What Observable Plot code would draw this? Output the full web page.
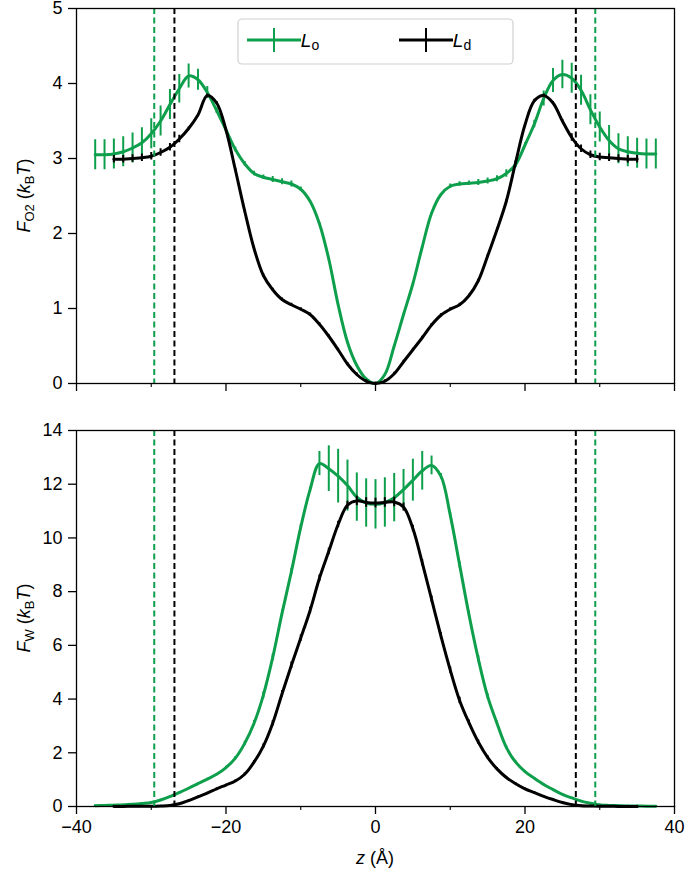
<!DOCTYPE html>
<html><head><meta charset="utf-8">
<script src="https://cdn.jsdelivr.net/npm/d3@7"></script>
<script src="https://cdn.jsdelivr.net/npm/@observablehq/plot@0.6"></script>
<style>
body{margin:0;background:#fff;}
#chart{width:685px;}
#chart svg{display:block;}
</style></head><body><div id="chart"></div>
<script>
// z positions (Å)
const zLo = [-37.5,-36.25,-35,-33.75,-32.5,-31.25,-30,-28.75,-27.5,-26.25,-25,-23.75,-22.5,-21.25,-20,-18.75,-17.5,-16.25,-15,-13.75,-12.5,-11.25,-10,-8.75,-7.5,-6.25,-5,-3.75,-2.5,-1.25,0,1.25,2.5,3.75,5,6.25,7.5,8.75,10,11.25,12.5,13.75,15,16.25,17.5,18.75,20,21.25,22.5,23.75,25,26.25,27.5,28.75,30,31.25,32.5,33.75,35,36.25,37.5];
const zLd = [-35,-33.75,-32.5,-31.25,-30,-28.75,-27.5,-26.25,-25,-23.75,-22.5,-21.25,-20,-18.75,-17.5,-16.25,-15,-13.75,-12.5,-11.25,-10,-8.75,-7.5,-6.25,-5,-3.75,-2.5,-1.25,0,1.25,2.5,3.75,5,6.25,7.5,8.75,10,11.25,12.5,13.75,15,16.25,17.5,18.75,20,21.25,22.5,23.75,25,26.25,27.5,28.75,30,31.25,32.5,33.75,35];

// F_O2 (kBT)
const fO2Lo = [3.05,3.05,3.06,3.09,3.14,3.21,3.33,3.50,3.72,3.93,4.10,4.05,3.88,3.64,3.38,3.12,2.93,2.80,2.75,2.72,2.69,2.66,2.59,2.43,2.13,1.66,1.05,0.55,0.24,0.06,0.00,0.12,0.50,0.92,1.33,1.82,2.27,2.52,2.63,2.66,2.67,2.68,2.70,2.73,2.80,2.92,3.18,3.46,3.80,4.04,4.12,4.07,3.91,3.65,3.42,3.24,3.13,3.09,3.07,3.06,3.06];
const fO2LoErr = [0.2,0.2,0.2,0.2,0.2,0.2,0.2,0.2,0.2,0.19,0.16,0.14,0.08,0.04,0.03,0.03,0.03,0.03,0.03,0.04,0.04,0.04,0.03,0.01,0.01,0.01,0.01,0.01,0.01,0.01,0.01,0.01,0.01,0.01,0.01,0.01,0.01,0.01,0.03,0.03,0.03,0.04,0.04,0.04,0.05,0.04,0.03,0.05,0.10,0.16,0.19,0.2,0.2,0.2,0.2,0.2,0.2,0.2,0.2,0.2,0.2];
const fO2Ld = [2.99,2.99,3.00,3.01,3.03,3.08,3.15,3.26,3.40,3.58,3.84,3.74,3.38,2.85,2.30,1.80,1.44,1.25,1.12,1.05,0.99,0.92,0.79,0.63,0.45,0.26,0.12,0.03,0.00,0.03,0.13,0.29,0.45,0.61,0.78,0.91,0.99,1.05,1.17,1.37,1.70,2.05,2.43,2.95,3.45,3.77,3.84,3.74,3.50,3.28,3.13,3.05,3.02,3.01,3.00,2.99,2.99];
const fO2LdErr = [0.05,0.05,0.05,0.05,0.05,0.05,0.05,0.05,0.02,0.02,0.02,0.02,0.02,0.02,0.02,0.02,0.02,0.02,0.02,0.02,0.02,0.02,0.02,0.02,0.02,0.02,0.02,0.02,0.02,0.02,0.02,0.02,0.02,0.02,0.02,0.02,0.02,0.02,0.02,0.02,0.02,0.02,0.02,0.02,0.02,0.02,0.02,0.02,0.02,0.05,0.05,0.05,0.05,0.05,0.05,0.05,0.05];

// F_W (kBT)
const fWLo = [0.03,0.04,0.05,0.06,0.08,0.11,0.15,0.24,0.37,0.52,0.68,0.85,1.02,1.20,1.45,1.80,2.35,3.10,4.15,5.55,7.20,8.75,10.40,11.80,12.77,12.58,12.30,11.95,11.52,11.30,11.25,11.32,11.50,11.80,12.15,12.50,12.70,12.30,10.85,9.00,7.15,5.50,4.10,3.10,2.20,1.65,1.30,1.05,0.82,0.63,0.45,0.32,0.20,0.12,0.06,0.04,0.03,0.02,0.02,0.01,0.01];
const fWLoErr = [0.03,0.03,0.03,0.03,0.03,0.03,0.03,0.03,0.03,0.03,0.03,0.03,0.03,0.03,0.05,0.06,0.08,0.1,0.12,0.12,0.12,0.12,0.1,0.1,0.45,0.85,1.0,0.95,0.9,0.9,0.92,0.92,0.9,0.75,0.78,0.72,0.35,0.1,0.1,0.12,0.12,0.12,0.1,0.08,0.06,0.05,0.04,0.03,0.03,0.03,0.03,0.03,0.03,0.03,0.03,0.03,0.03,0.03,0.03,0.03,0.03];
const fWLd = [0.00,0.00,0.01,0.01,0.01,0.02,0.04,0.10,0.22,0.36,0.50,0.66,0.80,0.95,1.20,1.65,2.25,3.10,4.20,5.26,6.27,7.30,8.50,9.50,10.50,11.22,11.38,11.32,11.30,11.32,11.34,11.15,10.35,9.08,7.72,6.35,5.08,3.95,3.12,2.40,1.83,1.40,1.08,0.85,0.66,0.52,0.38,0.26,0.15,0.07,0.03,0.02,0.01,0.01,0.00,0.00,0.00];
const fWLdErr = [0.02,0.02,0.02,0.02,0.02,0.02,0.02,0.02,0.03,0.03,0.03,0.03,0.03,0.04,0.05,0.06,0.08,0.1,0.12,0.12,0.12,0.12,0.12,0.12,0.12,0.15,0.18,0.18,0.18,0.18,0.18,0.15,0.12,0.12,0.12,0.12,0.12,0.12,0.1,0.08,0.06,0.05,0.04,0.03,0.03,0.03,0.03,0.03,0.03,0.02,0.02,0.02,0.02,0.02,0.02,0.02,0.02];

// membrane boundaries (dashed)
const boundLo = [-29.6, 29.4];
const boundLd = [-26.9, 26.8];

const xMajor = [-40,-20,0,20,40];
const xMinor = [-30,-10,10,30];
const yTicksO2 = [0,1,2,3,4,5];
const yTicksW = [0,2,4,6,8,10,12,14];
const legendLabels = [{name:"L", sub:"o"}, {name:"L", sub:"d"}];

const green = "#0e9f4c";
const font = "'Liberation Sans', Arial, Helvetica, sans-serif";
const fmt = d3.format("d");
const rows = (z, y, e) => z.map((v, i) => ({z: v, y: y[i], e: e[i]}));

function panel({height, marginTop, marginBottom, yDomain, yTicks, lo, ld, xLabels}) {
  return Plot.plot({
    width: 685, height, marginLeft: 76, marginRight: 11, marginTop, marginBottom,
    style: {fontFamily: font, fontSize: "18px", color: "#000", background: "#fff", overflow: "visible"},
    x: {domain: [-40, 40]},
    y: {domain: yDomain},
    marks: [
      Plot.ruleX(lo, {x: "z", y1: d => d.y - d.e, y2: d => d.y + d.e, stroke: green, strokeWidth: 2}),
      Plot.line(lo, {x: "z", y: "y", stroke: green, strokeWidth: 3, curve: "catmull-rom"}),
      Plot.ruleX(ld, {x: "z", y1: d => d.y - d.e, y2: d => d.y + d.e, stroke: "#000", strokeWidth: 2}),
      Plot.line(ld, {x: "z", y: "y", stroke: "#000", strokeWidth: 3, curve: "catmull-rom"}),
      Plot.ruleX(boundLo, {stroke: green, strokeWidth: 2, strokeDasharray: "6,3.5"}),
      Plot.ruleX(boundLd, {stroke: "#000", strokeWidth: 2, strokeDasharray: "6,3.5"}),
      Plot.frame({stroke: "#000", strokeWidth: 1.3}),
      Plot.axisX({ticks: xMajor, tickSize: 8, tickPadding: 6, tickFormat: xLabels ? fmt : () => "", label: null, strokeWidth: 1.3}),
      Plot.axisX({ticks: xMinor, tickSize: 4, tickFormat: () => "", label: null, strokeWidth: 1.1}),
      Plot.axisY({ticks: yTicks, tickSize: 8, tickPadding: 6, tickFormat: fmt, label: null, strokeWidth: 1.3})
    ]
  });
}

function yLabel(svg, y, sub) {
  const t = d3.select(svg).append("text")
    .attr("transform", `translate(30,${y}) rotate(-90)`)
    .attr("text-anchor", "middle")
    .attr("font-family", font).attr("font-size", 18).attr("fill", "#000");
  t.append("tspan").attr("font-style", "italic").text("F");
  t.append("tspan").attr("font-size", 13).attr("dy", 4).text(sub);
  t.append("tspan").attr("dy", -4).text(" (");
  t.append("tspan").attr("font-style", "italic").text("k");
  t.append("tspan").attr("font-size", 13).attr("dy", 4).text("B");
  t.append("tspan").attr("dy", -4).attr("font-style", "italic").text("T");
  t.append("tspan").text(")");
}

const topPanel = panel({height: 400, marginTop: 8, marginBottom: 17, yDomain: [0, 5], yTicks: yTicksO2,
  lo: rows(zLo, fO2Lo, fO2LoErr), ld: rows(zLd, fO2Ld, fO2LdErr), xLabels: false});
const bottomPanel = panel({height: 477, marginTop: 30, marginBottom: 71, yDomain: [0, 14], yTicks: yTicksW,
  lo: rows(zLo, fWLo, fWLoErr), ld: rows(zLd, fWLd, fWLdErr), xLabels: true});

const chart = document.getElementById("chart");
chart.appendChild(topPanel);
chart.appendChild(bottomPanel);

yLabel(topPanel, topPanel.scale("y").apply(2.5), "O2");
yLabel(bottomPanel, bottomPanel.scale("y").apply(7), "W");

// x label
const xl = d3.select(bottomPanel).append("text")
  .attr("x", bottomPanel.scale("x").apply(0)).attr("y", 464)
  .attr("text-anchor", "middle").attr("font-family", font).attr("font-size", 18).attr("fill", "#000");
xl.append("tspan").attr("font-style", "italic").text("z");
xl.append("tspan").text(" (Å)");

// legend
const lg = d3.select(topPanel).append("g");
lg.append("rect").attr("x", 238).attr("y", 19).attr("width", 275).attr("height", 45)
  .attr("rx", 4).attr("fill", "#fff").attr("fill-opacity", 0.85).attr("stroke", "#d0d0d0").attr("stroke-width", 1.2);
const entries = [{x: 247, color: green, lab: legendLabels[0]}, {x: 399, color: "#000", lab: legendLabels[1]}];
for (const e of entries) {
  lg.append("line").attr("x1", e.x).attr("x2", e.x + 54).attr("y1", 40).attr("y2", 40)
    .attr("stroke", e.color).attr("stroke-width", 3);
  lg.append("line").attr("x1", e.x + 27).attr("x2", e.x + 27).attr("y1", 28).attr("y2", 52)
    .attr("stroke", e.color).attr("stroke-width", 2);
  const t = lg.append("text").attr("x", e.x + 63).attr("y", 47)
    .attr("font-family", font).attr("font-size", 19).attr("fill", "#000");
  t.append("tspan").attr("font-style", "italic").text(e.lab.name);
  t.append("tspan").attr("font-size", 14).attr("dy", 3).text(e.lab.sub);
}
</script>
</body></html>
